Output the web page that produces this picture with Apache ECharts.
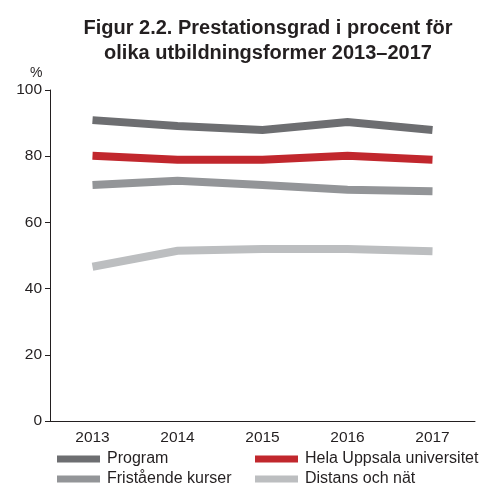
<!DOCTYPE html>
<html><head><meta charset="utf-8">
<script src="https://cdn.jsdelivr.net/npm/echarts@6/dist/echarts.min.js"></script>
<style>html,body{margin:0;padding:0;background:#fff}#c{width:485px;height:486px}</style>
</head><body><div id="c"></div>
<script>
const years = ['2013','2014','2015','2016','2017'];
const program = [90.9, 89.1, 87.9, 90.3, 87.9];
const helaUU = [80.1, 78.9, 78.9, 80.1, 78.9];
const fristaende = [71.3, 72.6, 71.3, 69.9, 69.4];
const distans = [46.6, 51.4, 52.0, 52.0, 51.3];
const names = ['Program','Hela Uppsala universitet','Fristående kurser','Distans och nät'];
const colors = ['#6d6e71','#c1272d','#939598','#bcbec0'];
const values = [program, helaUU, fristaende, distans];

const font = 'Liberation Sans, Arial, sans-serif';
const txt = '#231f20';
const chart = echarts.init(document.getElementById('c'));
const legendBase = {orient: 'vertical', top: 450, height: 40, padding: 0, itemWidth: 43, itemHeight: 7, itemGap: 2, icon: 'rect',
  textStyle: {fontFamily: font, fontSize: 16, color: txt, padding: [0,0,0,2], lineHeight: 18}};
chart.setOption({
  animation: false,
  textStyle: {fontFamily: font},
  title: {
    text: 'Figur 2.2. Prestationsgrad i procent för\nolika utbildningsformer 2013–2017',
    left: 263, top: 11, textAlign: 'center',
    textStyle: {fontFamily: font, fontSize: 20, fontWeight: 'bold', color: txt, lineHeight: 25}
  },
  graphic: [{type: 'text', left: 30, top: 66, style: {text: '%', fontFamily: font, fontSize: 14, fill: txt}}],
  grid: {left: 50, right: 10, top: 90, bottom: 65, containLabel: false},
  legend: [
    Object.assign({data: [names[0], names[2]], left: 57}, legendBase),
    Object.assign({data: [names[1], names[3]], left: 255}, legendBase)
  ],
  xAxis: {
    type: 'category', data: years, boundaryGap: true,
    axisLine: {lineStyle: {color: '#231f20', width: 1}},
    axisTick: {length: 6, lineStyle: {color: '#231f20'}},
    axisLabel: {fontFamily: font, fontSize: 15.5, color: txt, margin: 9}
  },
  yAxis: {
    type: 'value', min: 0, max: 100, interval: 20,
    axisLine: {show: true, lineStyle: {color: '#231f20', width: 1}},
    axisTick: {show: true, length: 5, lineStyle: {color: '#231f20'}},
    axisLabel: {fontFamily: font, fontSize: 15.5, color: txt, margin: 8},
    splitLine: {show: false}
  },
  series: names.map((n, i) => ({
    name: n, type: 'line', data: values[i], showSymbol: false, symbol: 'none',
    itemStyle: {color: colors[i]},
    lineStyle: {color: colors[i], width: 8, cap: 'butt', join: 'miter'},
    z: 10 - i
  }))
});
</script></body></html>
